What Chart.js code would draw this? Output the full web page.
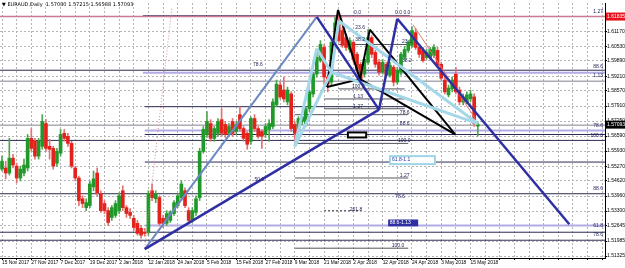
<!DOCTYPE html>
<html>
<head>
<meta charset="utf-8">
<script src="https://cdn.jsdelivr.net/npm/chart.js@4/dist/chart.umd.min.js"></script>
<style>
  html, body { margin: 0; padding: 0; background: #fff; }
  canvas { display: block; }
</style>
</head>
<body>
<canvas id="chart" width="625" height="268"></canvas>
<script>
// time axis labels, one every 8 daily bars starting at bar 0
const dateLabels = ["15 Nov 2017", "27 Nov 2017", "7 Dec 2017", "19 Dec 2017", "2 Jan 2018", "12 Jan 2018",
  "24 Jan 2018", "5 Feb 2018", "15 Feb 2018", "27 Feb 2018", "9 Mar 2018", "21 Mar 2018", "2 Apr 2018",
  "12 Apr 2018", "24 Apr 2018", "3 May 2018", "15 May 2018"];

const priceTicks = [1.51325, 1.51985, 1.52645, 1.53300, 1.53960, 1.54620, 1.55270, 1.55930, 1.56590,
  1.57250, 1.57910, 1.58570, 1.59210, 1.59890, 1.60530, 1.61170];

const opens = [1.5514, 1.5519, 1.5497, 1.5562, 1.5527, 1.5475, 1.5497, 1.5519, 1.5649, 1.5636,
  1.5571, 1.5614, 1.5714, 1.5614, 1.5605, 1.5540, 1.5584, 1.5671, 1.5658, 1.5627,
  1.5519, 1.5475, 1.5384, 1.5345, 1.5354, 1.5436, 1.5497, 1.5406, 1.5363, 1.5332,
  1.5302, 1.5311, 1.5332, 1.5419, 1.5345, 1.5324, 1.5298, 1.5276, 1.5254, 1.5237,
  1.5237, 1.5419, 1.5384, 1.5389, 1.5298, 1.5276, 1.5289, 1.5319, 1.5354, 1.5389,
  1.5419, 1.5332, 1.5289, 1.5324, 1.5389, 1.5592, 1.5666, 1.5714, 1.5649, 1.5671,
  1.5731, 1.5710, 1.5671, 1.5723, 1.5679, 1.5753, 1.5692, 1.5671, 1.5636, 1.5736,
  1.5692, 1.5679, 1.5666, 1.5688, 1.5701, 1.5796, 1.5883, 1.5861, 1.5809, 1.5844,
  1.5710, 1.5688, 1.5723, 1.5710, 1.5779, 1.5844, 1.5931, 1.5991, 1.6048, 1.5918,
  1.5896, 1.6061, 1.6148, 1.6122, 1.6091, 1.6039, 1.6070, 1.6018, 1.5974, 1.5931,
  1.5983, 1.6091, 1.6026, 1.5983, 1.5939, 1.5974, 1.5926, 1.5961, 1.5896, 1.5939,
  1.6004, 1.6035, 1.6057, 1.6113, 1.6048, 1.6035, 1.6004, 1.6004, 1.6013, 1.6035,
  1.5974, 1.5905, 1.5840, 1.5866, 1.5931, 1.5861, 1.5809, 1.5809, 1.5822, 1.5831,
  1.57030];
const highs = [1.5571, 1.5549, 1.5649, 1.5579, 1.5540, 1.5527, 1.5558, 1.5666, 1.5692, 1.5649,
  1.5649, 1.5753, 1.5731, 1.5645, 1.5614, 1.5605, 1.5688, 1.5688, 1.5671, 1.5636,
  1.5527, 1.5484, 1.5397, 1.5384, 1.5462, 1.5506, 1.5519, 1.5419, 1.5376, 1.5345,
  1.5354, 1.5376, 1.5410, 1.5441, 1.5354, 1.5341, 1.5311, 1.5289, 1.5267, 1.5254,
  1.5419, 1.5449, 1.5419, 1.5397, 1.5311, 1.5332, 1.5332, 1.5376, 1.5406, 1.5462,
  1.5432, 1.5345, 1.5345, 1.5397, 1.5605, 1.5701, 1.5766, 1.5731, 1.5701, 1.5736,
  1.5779, 1.5723, 1.5714, 1.5736, 1.5723, 1.5788, 1.5701, 1.5679, 1.5744, 1.5753,
  1.5701, 1.5688, 1.5714, 1.5731, 1.5822, 1.5905, 1.5896, 1.5918, 1.5874, 1.5853,
  1.5723, 1.5744, 1.5757, 1.5788, 1.5861, 1.5939, 1.6035, 1.6078, 1.6061, 1.5931,
  1.6078, 1.6182, 1.6200, 1.6135, 1.6104, 1.6091, 1.6078, 1.6026, 1.5983, 1.6004,
  1.6126, 1.6100, 1.6035, 1.5996, 1.5996, 1.5983, 1.5983, 1.5970, 1.5961, 1.6026,
  1.6052, 1.6078, 1.6139, 1.6130, 1.6057, 1.6048, 1.6039, 1.6048, 1.6061, 1.6048,
  1.5983, 1.5918, 1.5883, 1.5918, 1.5961, 1.5874, 1.5844, 1.5853, 1.5861, 1.5844,
  1.57215];
const lows = [1.5506, 1.5471, 1.5488, 1.5519, 1.5454, 1.5462, 1.5484, 1.5506, 1.5592, 1.5558,
  1.5558, 1.5601, 1.5592, 1.5558, 1.5514, 1.5527, 1.5571, 1.5636, 1.5614, 1.5519,
  1.5462, 1.5354, 1.5345, 1.5332, 1.5345, 1.5419, 1.5397, 1.5324, 1.5319, 1.5267,
  1.5289, 1.5302, 1.5319, 1.5332, 1.5302, 1.5298, 1.5245, 1.5224, 1.5211, 1.5219,
  1.5224, 1.5376, 1.5367, 1.5267, 1.5258, 1.5267, 1.5280, 1.5311, 1.5345, 1.5376,
  1.5345, 1.5280, 1.5280, 1.5311, 1.5376, 1.5584, 1.5653, 1.5636, 1.5636, 1.5658,
  1.5658, 1.5653, 1.5658, 1.5658, 1.5666, 1.5679, 1.5636, 1.5601, 1.5623, 1.5679,
  1.5649, 1.5605, 1.5653, 1.5636, 1.5692, 1.5788, 1.5822, 1.5809, 1.5796, 1.5679,
  1.5623, 1.5679, 1.5710, 1.5701, 1.5766, 1.5831, 1.5918, 1.5983, 1.5887, 1.5853,
  1.5883, 1.6048, 1.6070, 1.6048, 1.6035, 1.6026, 1.5983, 1.5939, 1.5887, 1.5918,
  1.5974, 1.6004, 1.5961, 1.5926, 1.5931, 1.5918, 1.5918, 1.5879, 1.5887, 1.5926,
  1.5996, 1.6026, 1.6048, 1.6039, 1.6004, 1.5983, 1.5996, 1.5996, 1.6004, 1.5961,
  1.5905, 1.5844, 1.5831, 1.5853, 1.5844, 1.5796, 1.5796, 1.5801, 1.5809, 1.5701,
  1.56588];
const closes = [1.5549, 1.5497, 1.5562, 1.5532, 1.5475, 1.5514, 1.5532, 1.5649, 1.5605, 1.5571,
  1.5636, 1.5723, 1.5605, 1.5601, 1.5527, 1.5592, 1.5666, 1.5649, 1.5627, 1.5527,
  1.5475, 1.5376, 1.5363, 1.5367, 1.5449, 1.5471, 1.5410, 1.5332, 1.5332, 1.5280,
  1.5345, 1.5363, 1.5397, 1.5345, 1.5319, 1.5311, 1.5258, 1.5232, 1.5224, 1.5232,
  1.5406, 1.5389, 1.5406, 1.5276, 1.5276, 1.5319, 1.5324, 1.5367, 1.5397, 1.5449,
  1.5354, 1.5289, 1.5332, 1.5384, 1.5592, 1.5688, 1.5723, 1.5649, 1.5692, 1.5723,
  1.5671, 1.5666, 1.5701, 1.5671, 1.5710, 1.5692, 1.5649, 1.5623, 1.5736, 1.5692,
  1.5658, 1.5658, 1.5701, 1.5714, 1.5809, 1.5887, 1.5831, 1.5822, 1.5861, 1.5692,
  1.5671, 1.5736, 1.5744, 1.5779, 1.5853, 1.5931, 1.6004, 1.6061, 1.5918, 1.5887,
  1.6070, 1.6156, 1.6078, 1.6057, 1.6048, 1.6078, 1.5996, 1.5952, 1.5909, 1.5996,
  1.6091, 1.6018, 1.5974, 1.5939, 1.5983, 1.5926, 1.5970, 1.5896, 1.5948, 1.6018,
  1.6039, 1.6070, 1.6122, 1.6048, 1.6018, 1.5991, 1.6026, 1.6039, 1.6048, 1.5970,
  1.5913, 1.5853, 1.5870, 1.5905, 1.5853, 1.5809, 1.5831, 1.5840, 1.5844, 1.5714,
  1.57093];

// pattern pivots as [bar index, price]: X, A, B, C, D
const navyPattern = [[39, 1.5163], [86, 1.6182], [103, 1.5775], [108, 1.6174], [155, 1.5272]];
const lightPattern = [[80, 1.5614], [86, 1.6043], [90, 1.5939], [92, 1.6165], [130, 1.5714]];
const blackPattern = [[88.8, 1.5874], [91.8, 1.6213], [97.8, 1.5909], [100.5, 1.6126], [123.8, 1.5666]];
const pinkDotted = [[39, 1.5167], [46.4, 1.6221]];
const pinkThin = [[112.3, 1.6148], [129.5, 1.5731]];

// horizontal levels
const alertLevel = 1.61835;
const darkLevels = [1.5948, 1.5640, 1.5406, 1.5237, 1.5202];
const greyLevels = [1.5900, 1.5707];
const partialDark = [[38.5, 111.5, 1.6187], [39, 111, 1.5788], [39, 165, 1.5666], [39, 165, 1.5545]];
const partialLavender = [[38.5, 165, 1.5937], [39, 165, 1.5684], [39, 165, 1.5267]];
const shortLevels = [[92, 111, 1.6061], [92, 110, 1.5866], [88, 110, 1.5822], [88, 110, 1.5779],
  [80, 111, 1.5753], [80, 111, 1.5627], [80, 111, 1.5475], [80, 111, 1.5167]];
const dashedLevels = [[88, 98, 1.5332]];

// fib texts [text, bar index, price]
const fibTexts = [["0.0", 96.2, 1.6191], ["0.0 0.0", 107.4, 1.6191], ["23.6", 96.5, 1.6122], ["38.2", 96.5, 1.6070],
  ["23.6", 109.3, 1.6061], ["38.2", 109.3, 1.5978], ["78.6", 68.6, 1.5961], ["100.0", 95.6, 1.5866],
  ["1.13", 96, 1.5822], ["1.27", 96, 1.5779], ["78.6", 108.7, 1.5753], ["88.6", 108.7, 1.5701],
  ["100.0", 108.2, 1.5627], ["1.27", 108.7, 1.5475], ["78.6", 107.4, 1.5384], ["261.8", 95, 1.5324],
  ["100.0", 106.5, 1.5167], ["50.0", 69, 1.5458]];
const edgeTexts = [["1.27", 1.6195], ["88.6", 1.5952], ["1.13", 1.5913], ["78.6", 1.5692],
  ["100.0", 1.5649], ["88.6", 1.5419], ["61.8", 1.5254], ["78.6", 1.5215]];
// label boxes [text, x0, x1, top price, bottom price]
const outlineBox = [94.5, 99.5, 1.5675, 1.5653];
const lightBox = ["61.8-1.1", 106, 118.3, 1.5571, 1.5536];
const navyBox = ["88.6-1.13", 105.5, 113.7, 1.5293, 1.5263];

const barIndex = opens.map((_, i) => i);
const isUp = (i) => closes[i] >= opens[i];

function seg(a, b, color, width, dash, order) {
  return {
    type: "line",
    data: [{ x: a[0], y: a[1] }, { x: b[0], y: b[1] }],
    borderColor: color,
    borderWidth: width,
    borderDash: dash || [],
    pointRadius: 0,
    fill: false,
    tension: 0,
    order: order,
  };
}

function patternLines(p, color, width, withBD) {
  const [X, A, B, C, D] = p;
  const list = [seg(A, B, color, width, null, 1), seg(X, B, color, width, null, 1),
    seg(B, C, color, width, null, 1), seg(C, D, color, width, null, 1)];
  if (withBD) {
    list.push(seg(X, A, color, width, null, 1), seg(B, D, color, width, null, 1));
  }
  return list;
}

const datasets = [
  {
    type: "bar",
    data: barIndex.map((i) => ({ x: i, y: [lows[i], highs[i]] })),
    backgroundColor: (ctx) => (isUp(ctx.dataIndex) ? "#4fa64f" : "#e57070"),
    barThickness: 1,
    grouped: false,
    order: 10,
  },
  {
    type: "bar",
    data: barIndex.map((i) => ({ x: i, y: [opens[i], closes[i]] })),
    backgroundColor: (ctx) => (isUp(ctx.dataIndex) ? "#1f9a2a" : "#e3221c"),
    barThickness: 3,
    minBarLength: 1,
    grouped: false,
    order: 9,
  },
];

datasets.push(seg([-1, alertLevel], [166, alertLevel], "#c97a92", 1.5, null, 20));
darkLevels.forEach((p) => datasets.push(seg([-1, p], [166, p], "#2b2b55", 1, null, 20)));
greyLevels.forEach((p) => datasets.push(seg([-1, p], [166, p], "#80808f", 1, null, 20)));
partialDark.forEach(([a, b, p]) => datasets.push(seg([a, p], [b, p], "#2b2b55", 1, null, 20)));
partialLavender.forEach(([a, b, p]) => datasets.push(seg([a, p], [b, p], "#b2ace4", 2, null, 20)));
shortLevels.forEach(([a, b, p]) => datasets.push(seg([a, p], [b, p], "#55555f", 1, null, 20)));
dashedLevels.forEach(([a, b, p]) => datasets.push(seg([a, p], [b, p], "#55555f", 1, [2, 2], 20)));

datasets.push(seg(navyPattern[0], navyPattern[1], "#6d88c2", 2, null, 2));
datasets.push(...patternLines(navyPattern, "#2f2fa3", 2.5, false));
datasets.push(...patternLines(lightPattern, "#a4d8e8", 3, true));
datasets.push(...patternLines(blackPattern, "#000000", 2, true));
datasets.push(seg(pinkDotted[0], pinkDotted[1], "#d48a8a", 1, [1, 2], 3));
datasets.push(seg(pinkThin[0], pinkThin[1], "#e07474", 1, null, 3));

const smallFont = '5px "Liberation Sans"';
const axisFont = '5px "Liberation Sans"';

const overlay = {
  id: "overlay",
  afterDatasetsDraw(chart) {
    const { ctx, scales: { x, y } } = chart;
    ctx.save();
    ctx.font = smallFont;
    ctx.textBaseline = "bottom";
    ctx.fillStyle = "#23235a";
    fibTexts.forEach(([t, i, p]) => ctx.fillText(t, x.getPixelForValue(i), y.getPixelForValue(p)));
    ctx.textAlign = "right";
    edgeTexts.forEach(([t, p]) => ctx.fillText(t, chart.chartArea.right - 2, y.getPixelForValue(p)));

    // boxes
    const rect = (x0, x1, p0, p1) => [x.getPixelForValue(x0), y.getPixelForValue(p0),
      x.getPixelForValue(x1) - x.getPixelForValue(x0), y.getPixelForValue(p1) - y.getPixelForValue(p0)];
    let r = rect(...outlineBox);
    ctx.fillStyle = "#fff";
    ctx.fillRect(...r);
    ctx.strokeStyle = "#000";
    ctx.lineWidth = 2;
    ctx.strokeRect(...r);

    r = rect(lightBox[1], lightBox[2], lightBox[3], lightBox[4]);
    ctx.fillStyle = "#fff";
    ctx.fillRect(...r);
    ctx.strokeStyle = "#9fd6e6";
    ctx.lineWidth = 2;
    ctx.strokeRect(...r);
    ctx.textAlign = "left";
    ctx.textBaseline = "middle";
    ctx.fillStyle = "#2f2fa3";
    ctx.fillText(lightBox[0], r[0] + 2, r[1] + r[3] / 2);

    r = rect(navyBox[1], navyBox[2], navyBox[3], navyBox[4]);
    ctx.fillStyle = "#2f2fa3";
    ctx.fillRect(...r);
    ctx.fillStyle = "#fff";
    ctx.fillText(navyBox[0], r[0] + 1.5, r[1] + r[3] / 2);
    ctx.restore();
  },
  afterDraw(chart) {
    const { ctx, scales: { y } } = chart;
    const left = chart.chartArea.right + 1;
    ctx.save();
    ctx.font = axisFont;
    ctx.textBaseline = "middle";
    const tag = (price, bg) => {
      const py = y.getPixelForValue(price);
      ctx.fillStyle = bg;
      ctx.fillRect(left, py - 4, 625 - left, 8);
      ctx.fillStyle = "#fff";
      ctx.fillText(price.toFixed(5), left + 1, py);
    };
    tag(alertLevel, "#e8101a");
    tag(closes[closes.length - 1], "#000");

    const n = opens.length - 1;
    ctx.fillStyle = "#000";
    ctx.font = '5px "DejaVu Sans"';
    ctx.fillText("\u25BC EURAUD,Daily  " + [opens[n], highs[n], lows[n], closes[n]].map((v) => v.toFixed(5)).join(" "), 2, 5);
    ctx.restore();
  },
};

new Chart(document.getElementById("chart"), {
  type: "bar",
  data: { datasets },
  options: {
    responsive: false,
    animation: false,
    layout: { padding: 0 },
    plugins: { legend: { display: false }, tooltip: { enabled: false } },
    scales: {
      x: {
        type: "linear",
        min: -0.55,
        max: 164.75,
        offset: false,
        afterBuildTicks: (scale) => {
          const ticks = [];
          for (let v = 0; v <= 164; v += 4) ticks.push({ value: v });
          scale.ticks = ticks;
        },
        afterFit: (scale) => { scale.height = 10; },
        grid: { offset: false, color: "#b4b4b4", tickLength: 2, drawTicks: true, tickColor: "#000" },
        border: { display: true, color: "#000", width: 1, dash: [2, 2] },
        ticks: {
          autoSkip: false,
          maxRotation: 0,
          align: "start",
          padding: 0,
          color: "#000",
          font: { family: "Liberation Sans", size: 4.8 },
          callback: (v) => (v % 8 === 0 && v / 8 < dateLabels.length ? dateLabels[v / 8] : ""),
        },
      },
      y: {
        position: "right",
        min: 1.5124,
        max: 1.6243,
        afterBuildTicks: (scale) => { scale.ticks = priceTicks.map((v) => ({ value: v })); },
        afterFit: (scale) => { scale.width = 20; },
        grid: { color: "#b4b4b4", tickLength: 2, tickColor: "#000" },
        border: { display: true, color: "#000", width: 1, dash: [2, 2] },
        ticks: {
          padding: 0,
          color: "#000",
          font: { family: "Liberation Sans", size: 5 },
          callback: (v) => v.toFixed(5),
        },
      },
    },
  },
  plugins: [overlay],
});
</script>
</body>
</html>
